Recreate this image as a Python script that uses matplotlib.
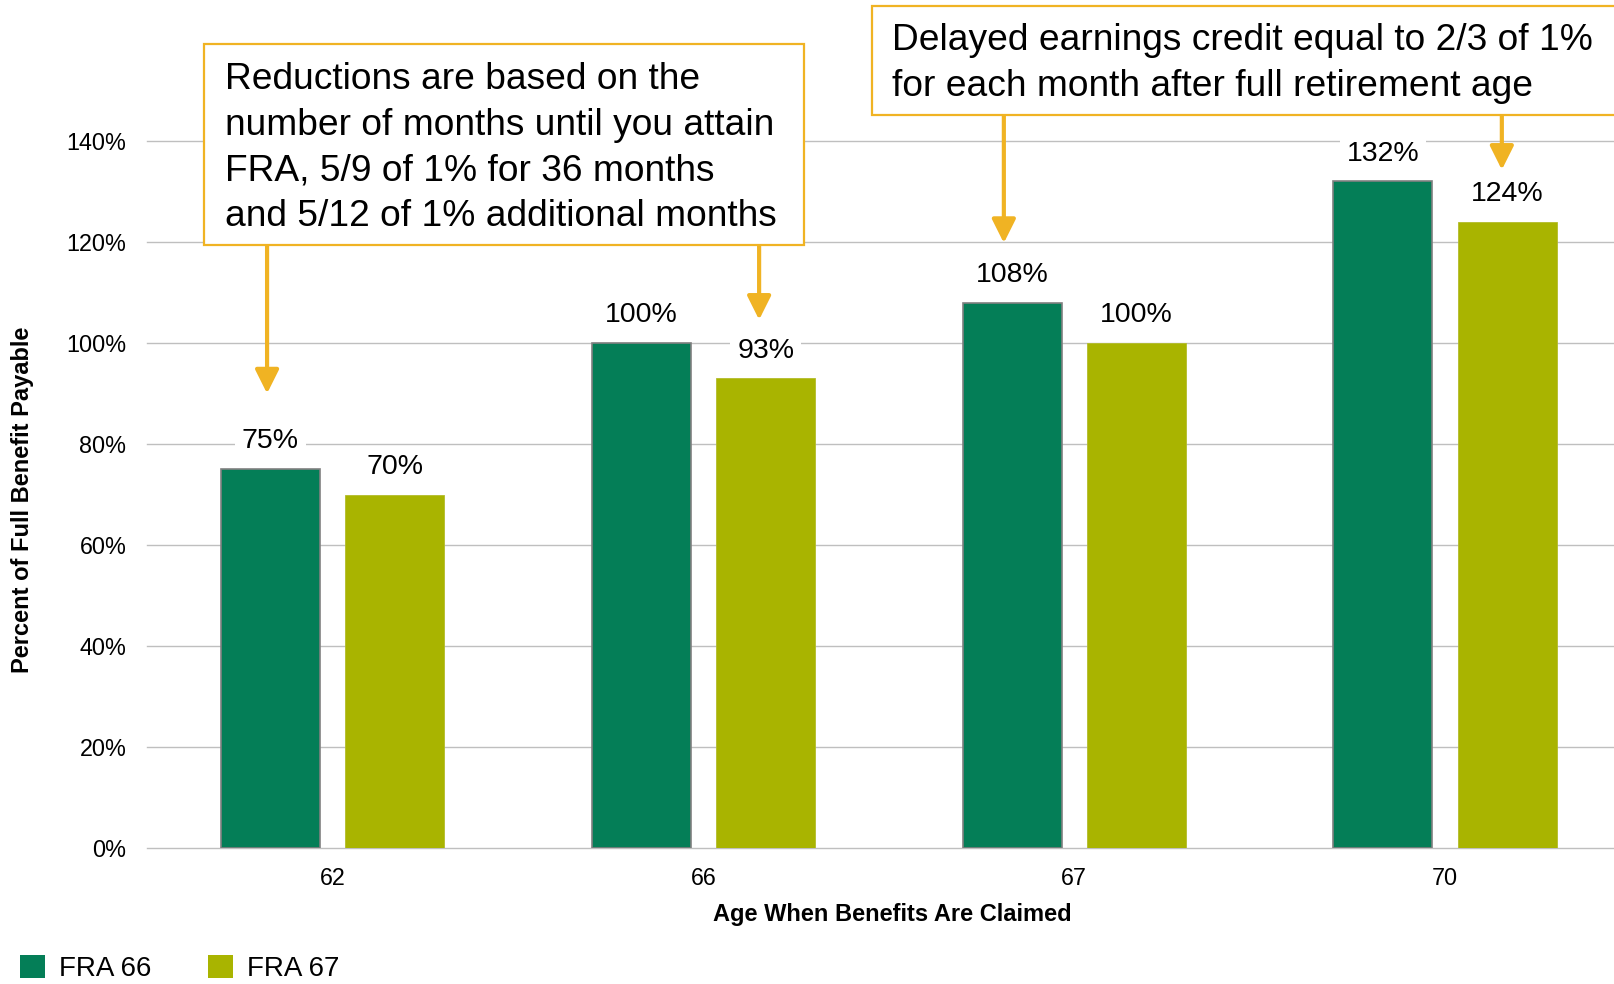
import numpy as np
import matplotlib.pyplot as plt
from matplotlib.patches import Rectangle, Patch

plt.rcParams['font.family'] = ['Liberation Sans', 'DejaVu Sans']

ages = ["62", "66", "67", "70"]
fra66 = [75, 100, 108, 132]
fra67 = [70, 93, 100, 124]
series_names = ["FRA 66", "FRA 67"]
y_ticks = [0, 20, 40, 60, 80, 100, 120, 140]

note_left = ("Reductions are based on the\n"
             "number of months until you attain\n"
             "FRA, 5/9 of 1% for 36 months\n"
             "and 5/12 of 1% additional months")
note_right = ("Delayed earnings credit equal to 2/3 of 1%\n"
              "for each month after full retirement age")

green = "#047E57"
olive = "#A9B400"
orange = "#F0B323"
grid_col = "#BFBFBF"

W, H = 1615, 984
fig = plt.figure(figsize=(W / 100, H / 100), dpi=100)


def fx(px):
    return px / W


def fy(py):
    return 1 - py / H


ax = fig.add_axes([fx(147.3), fy(848), 1483.2 / W, 707 / H])
x = np.arange(len(ages))
w = 0.267
off = 0.168

b1 = ax.bar(x - off, fra66, w, color=green, edgecolor="#808080", linewidth=1.2, zorder=3)
b2 = ax.bar(x + off, fra67, w, color=olive, edgecolor="#B3BC2A", linewidth=0.6, zorder=3)

for bars in (b1, b2):
    for rect in bars:
        v = rect.get_height()
        ax.annotate(f"{v:g}%", (rect.get_x() + rect.get_width() / 2, v),
                    xytext=(0, 20), textcoords="offset points",
                    ha="center", va="center", fontsize=20.5, zorder=4,
                    bbox=dict(facecolor="white", edgecolor="none", pad=5))

ax.set_xlim(-0.5, 3.5)
ax.set_ylim(0, 140)
ax.set_xticks(x)
ax.set_xticklabels(ages)
ax.set_yticks(y_ticks)
ax.set_yticklabels([f"{t}%" for t in y_ticks])
ax.tick_params(axis="both", length=0, labelsize=16.8, colors="#000000")
ax.tick_params(axis="y", pad=15)
ax.tick_params(axis="x", pad=14)
for s in ax.spines.values():
    s.set_visible(False)
ax.yaxis.grid(True, color=grid_col, linewidth=1.0)
ax.set_axisbelow(True)
for gl in ax.get_ygridlines():
    gl.set_clip_on(False)

fig.text(fx(892), fy(915), "Age When Benefits Are Claimed", ha="center", va="center",
         fontsize=17, fontweight="bold")
fig.text(fx(23), fy(500), "Percent of Full Benefit Payable", ha="center", va="center",
         rotation=90, fontsize=17, fontweight="bold")

# callout boxes
fig.add_artist(Rectangle((fx(204), fy(245)), (804 - 204) / W, (245 - 44) / H,
                         transform=fig.transFigure, facecolor="white", edgecolor=orange,
                         linewidth=1.6, zorder=5))
fig.text(fx(225), fy(148), note_left, ha="left", va="center", fontsize=26.7,
         linespacing=1.39, zorder=6)
fig.add_artist(Rectangle((fx(872), fy(115)), (1640 - 872) / W, (115 - 6) / H,
                         transform=fig.transFigure, facecolor="white", edgecolor=orange,
                         linewidth=1.6, zorder=5))
fig.text(fx(892), fy(63.5), note_right, ha="left", va="center", fontsize=26.7,
         linespacing=1.39, zorder=6)

# arrows from the boxes
arrows = [(-0.177, 119.4, 90), (1.150, 119.4, 104.6), (1.810, 145.2, 119.8), (3.153, 145.2, 134.3)]
for ax_x, y0, y1 in arrows:
    ax.annotate("", xy=(ax_x, y1), xytext=(ax_x, y0),
                arrowprops=dict(arrowstyle="-|>", color=orange, lw=3, mutation_scale=36,
                                shrinkA=0, shrinkB=0),
                annotation_clip=False, zorder=4)

handles = [Patch(facecolor=green, edgecolor="none"), Patch(facecolor=olive, edgecolor="none")]
fig.legend(handles, series_names, loc="lower left", bbox_to_anchor=(fx(20), fy(982)),
           ncol=2, frameon=False, fontsize=20, handlelength=0.9, handleheight=0.9,
           handletextpad=0.5, columnspacing=2.05, borderpad=0, borderaxespad=0)

fig.savefig("out.png", dpi=100)
